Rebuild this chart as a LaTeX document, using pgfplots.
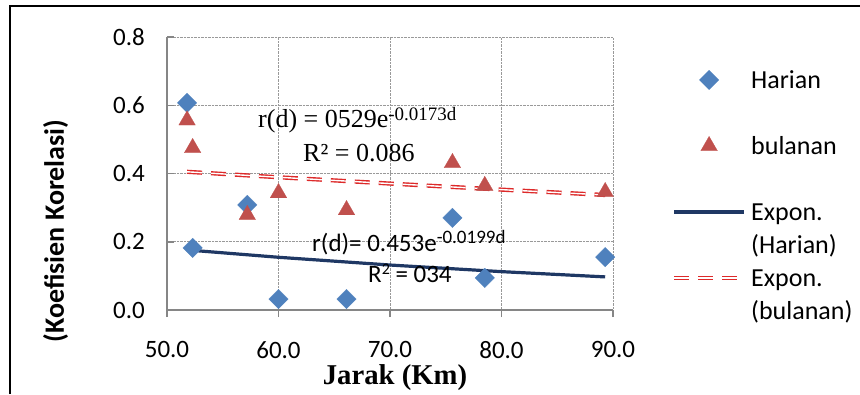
\documentclass[border=0pt]{standalone}
\usepackage{pgfplots}
\pgfplotsset{compat=1.18}
\usepackage{fontspec}
\setmainfont{Carlito}
\newfontfamily\timesf{Liberation Serif}
\definecolor{hblue}{HTML}{4F81BD}
\definecolor{bred}{HTML}{C0504D}
\definecolor{navy}{HTML}{1F3864}
\definecolor{dred}{HTML}{DD2A2A}
\definecolor{axgray}{HTML}{868686}
\pgfplotsset{
  mklegend/.style={legend image code/.code={\path[draw=none,fill=none] (0pt,-10pt) rectangle (70pt,23pt);\draw[##1] plot coordinates {(35pt,9pt)};}},
  lnlegend/.style={legend image code/.code={\path[draw=none,fill=none] (0pt,-10pt) rectangle (70pt,23pt);\draw[##1] (0pt,9pt) -- (70pt,9pt);}},
  blanklegend/.style={legend image code/.code={\path[draw=none,fill=none] (0pt,-10pt) rectangle (70pt,23pt);}},
}
\begin{document}
\begin{tikzpicture}
\useasboundingbox (0pt,0pt) rectangle (860pt,394pt);
\begin{axis}[
  at={(167pt,84pt)}, anchor=south west,
  scale only axis, width=446pt, height=273pt,
  xmin=50, xmax=90, ymin=0, ymax=0.8,
  xtick={50,60,70,80,90}, ytick={0,0.2,0.4,0.6,0.8},
  axis x line*=bottom, axis y line*=left,
  axis line style={draw=axgray, line width=1.5pt, -},
  grid=major, grid style={densely dotted, draw=gray!80, line width=0.8pt},
  tick align=outside, major tick length=7pt,
  tick style={draw=axgray, line width=1.5pt},
  ytick style={xshift=7pt},
  /pgf/number format/assume math mode=true,
  /pgf/number format/fixed, /pgf/number format/fixed zerofill,
  /pgf/number format/precision=1,
  ticklabel style={font=\fontsize{25}{30}\selectfont, inner sep=0pt},
  xticklabel style={anchor=north, yshift=-24pt},
  yticklabel style={anchor=east, xshift=-15pt},
  legend style={at={(1.13229,0.8941)}, anchor=north west, draw=none, fill=none,
    inner sep=0pt, outer sep=0pt, row sep=0pt, column sep=5pt,
    font=\fontsize{26}{33}\selectfont,
    nodes={inner sep=0pt, outer sep=0pt},
    cells={anchor=base west}},
  clip=false,
]
\addplot[only marks, mark=square*, mark size=6.9pt,
  mark options={rotate=45, draw=hblue, fill=hblue, line width=0.2pt}, mklegend]
coordinates {(51.8,0.607) (52.3,0.182) (57.2,0.308) (60.0,0.032) (66.1,0.032) (75.6,0.270) (78.5,0.094) (89.3,0.155)};
\addlegendentry{Harian}
\addlegendimage{blanklegend}
\addlegendentry{}
\addplot[only marks, mark=triangle*, mark size=9.6pt,
  mark options={draw=bred, fill=bred, line width=0.2pt}, mklegend]
coordinates {(51.8,0.556) (52.3,0.475) (57.2,0.279) (60.0,0.343) (66.1,0.293) (75.6,0.431) (78.5,0.364) (89.3,0.346)};
\addlegendentry{bulanan}
\addlegendimage{blanklegend}
\addlegendentry{}
\addplot[navy, line width=3.2pt, no marks, lnlegend]
coordinates {(51.8,0.176) (60,0.1545) (70,0.1318) (80,0.1124) (89.3,0.097)};
\addlegendentry{Expon.}
\addlegendimage{blanklegend}
\addlegendentry{(Harian)}
\addplot[dred, line width=1.4pt, double=white, double distance=1.4pt, no marks,
  dash pattern=on 15pt off 9pt, lnlegend]
coordinates {(51.8,0.405) (60,0.389) (70,0.3705) (80,0.3527) (89.3,0.337)};
\addlegendentry{Expon.}
\addlegendimage{blanklegend}
\addlegendentry{(bulanan)}
\end{axis}
% annotations
\node[anchor=base west, inner sep=0pt] at (258pt,266pt)
  {\timesf\fontsize{26}{30}\selectfont r(d) = 0529e\raisebox{7pt}{\fontsize{19}{20}\selectfont -0.0173d}};
\node[anchor=base west, inner sep=0pt] at (303pt,232pt)
  {\timesf\fontsize{26}{30}\selectfont R² = 0.086};
\node[anchor=base west, inner sep=0pt] at (312pt,142pt)
  {\fontsize{25}{30}\selectfont r(d)= 0.453e\raisebox{8pt}{\fontsize{19}{20}\selectfont -0.0199d}};
\node[anchor=base west, inner sep=0pt] at (368pt,111pt)
  {\fontsize{25}{30}\selectfont R\raisebox{8pt}{\fontsize{16}{18}\selectfont 2} = 034};
% axis titles
\node[rotate=90, inner sep=0pt] at (55.5pt,163pt)
  {\bfseries\fontsize{28}{34}\selectfont (Koefisien Korelasi)};
\node[anchor=base, inner sep=0pt] at (395pt,10pt)
  {\timesf\bfseries\fontsize{28.7}{34}\selectfont Jarak (Km)};
% frame
\draw[line width=2.5pt] (10pt,0pt) -- (10pt,388pt) -- (861pt,388pt);
\end{tikzpicture}
\end{document}
